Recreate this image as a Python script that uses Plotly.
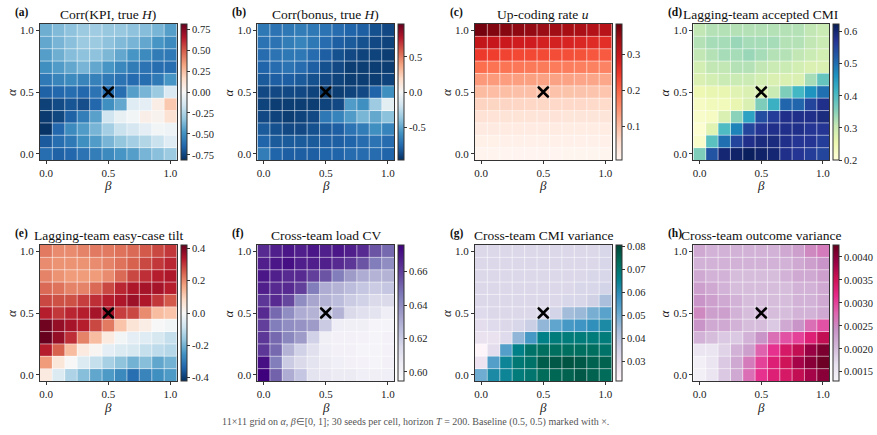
import plotly.graph_objects as go

# ---------------- data ----------------
beta = [0.0, 0.1, 0.2, 0.3, 0.4, 0.5, 0.6, 0.7, 0.8, 0.9, 1.0]
alpha = [1.0, 0.9, 0.8, 0.7, 0.6, 0.5, 0.4, 0.3, 0.2, 0.1, 0.0]   # rows listed top -> bottom
baseline = (0.5, 0.5)

corr_kpi = [
    [-0.40, -0.36, -0.33, -0.30, -0.29, -0.31, -0.31, -0.33, -0.35, -0.38, -0.45],
    [-0.42, -0.38, -0.34, -0.30, -0.30, -0.33, -0.36, -0.38, -0.42, -0.48, -0.52],
    [-0.45, -0.40, -0.35, -0.33, -0.33, -0.37, -0.42, -0.48, -0.52, -0.57, -0.58],
    [-0.50, -0.46, -0.42, -0.38, -0.42, -0.48, -0.53, -0.57, -0.60, -0.62, -0.62],
    [-0.58, -0.54, -0.52, -0.54, -0.55, -0.58, -0.60, -0.63, -0.62, -0.58, -0.48],
    [-0.66, -0.64, -0.62, -0.64, -0.60, -0.62, -0.62, -0.45, -0.38, -0.30, -0.12],
    [-0.76, -0.73, -0.70, -0.72, -0.64, -0.50, -0.42, -0.10, -0.08, 0.06, 0.22],
    [-0.78, -0.74, -0.66, -0.56, -0.44, -0.16, -0.06, -0.02, 0.05, 0.03, 0.12],
    [-0.80, -0.64, -0.52, -0.46, -0.38, -0.28, -0.18, -0.14, -0.08, -0.02, -0.04],
    [-0.68, -0.62, -0.58, -0.50, -0.46, -0.38, -0.32, -0.28, -0.24, -0.18, -0.10],
    [-0.62, -0.66, -0.64, -0.60, -0.56, -0.52, -0.48, -0.45, -0.38, -0.34, -0.30],
]

corr_bonus = [
    [-0.70, -0.72, -0.70, -0.68, -0.70, -0.72, -0.75, -0.78, -0.80, -0.85, -0.88],
    [-0.72, -0.72, -0.68, -0.65, -0.70, -0.75, -0.80, -0.82, -0.85, -0.88, -0.90],
    [-0.75, -0.72, -0.70, -0.70, -0.75, -0.80, -0.85, -0.88, -0.90, -0.90, -0.92],
    [-0.78, -0.75, -0.72, -0.75, -0.80, -0.85, -0.88, -0.92, -0.92, -0.92, -0.92],
    [-0.82, -0.80, -0.80, -0.82, -0.85, -0.88, -0.90, -0.92, -0.92, -0.92, -0.90],
    [-0.88, -0.88, -0.88, -0.88, -0.90, -0.92, -0.92, -0.90, -0.88, -0.78, -0.60],
    [-0.90, -0.92, -0.92, -0.92, -0.92, -0.90, -0.88, -0.55, -0.60, -0.35, -0.10],
    [-0.88, -0.90, -0.92, -0.90, -0.88, -0.70, -0.65, -0.55, -0.45, -0.50, -0.40],
    [-0.82, -0.85, -0.88, -0.88, -0.85, -0.82, -0.80, -0.72, -0.68, -0.60, -0.65],
    [-0.78, -0.82, -0.82, -0.82, -0.82, -0.80, -0.80, -0.78, -0.75, -0.72, -0.75],
    [-0.68, -0.78, -0.80, -0.80, -0.80, -0.78, -0.78, -0.75, -0.75, -0.75, -0.78],
]

upcoding = [
    [0.375, 0.365, 0.360, 0.355, 0.350, 0.345, 0.340, 0.335, 0.330, 0.320, 0.315],
    [0.300, 0.295, 0.290, 0.285, 0.285, 0.280, 0.280, 0.275, 0.270, 0.265, 0.260],
    [0.245, 0.240, 0.235, 0.230, 0.230, 0.228, 0.225, 0.222, 0.220, 0.215, 0.212],
    [0.190, 0.185, 0.183, 0.180, 0.178, 0.176, 0.175, 0.173, 0.170, 0.168, 0.166],
    [0.140, 0.138, 0.135, 0.133, 0.132, 0.130, 0.130, 0.128, 0.126, 0.125, 0.124],
    [0.100, 0.098, 0.096, 0.095, 0.094, 0.093, 0.092, 0.091, 0.090, 0.089, 0.088],
    [0.070, 0.068, 0.067, 0.066, 0.065, 0.064, 0.063, 0.062, 0.062, 0.061, 0.060],
    [0.048, 0.047, 0.046, 0.045, 0.045, 0.044, 0.044, 0.043, 0.043, 0.042, 0.042],
    [0.030, 0.030, 0.029, 0.029, 0.028, 0.028, 0.028, 0.027, 0.027, 0.027, 0.026],
    [0.018, 0.018, 0.017, 0.017, 0.017, 0.016, 0.016, 0.016, 0.016, 0.015, 0.015],
    [0.009, 0.009, 0.008, 0.008, 0.008, 0.008, 0.008, 0.007, 0.007, 0.007, 0.007],
]

accepted_cmi = [
    [0.31, 0.32, 0.32, 0.32, 0.32, 0.32, 0.32, 0.32, 0.32, 0.31, 0.30],
    [0.32, 0.33, 0.33, 0.34, 0.33, 0.33, 0.33, 0.32, 0.32, 0.31, 0.30],
    [0.31, 0.32, 0.33, 0.33, 0.34, 0.33, 0.32, 0.32, 0.31, 0.30, 0.29],
    [0.29, 0.31, 0.31, 0.32, 0.32, 0.31, 0.30, 0.30, 0.29, 0.28, 0.28],
    [0.28, 0.29, 0.30, 0.30, 0.30, 0.29, 0.28, 0.28, 0.28, 0.33, 0.38],
    [0.25, 0.26, 0.26, 0.27, 0.28, 0.28, 0.30, 0.36, 0.41, 0.46, 0.50],
    [0.23, 0.24, 0.24, 0.26, 0.28, 0.36, 0.42, 0.51, 0.51, 0.55, 0.58],
    [0.22, 0.23, 0.28, 0.35, 0.44, 0.54, 0.56, 0.58, 0.58, 0.58, 0.59],
    [0.21, 0.27, 0.40, 0.48, 0.55, 0.57, 0.58, 0.58, 0.58, 0.57, 0.57],
    [0.22, 0.39, 0.50, 0.55, 0.58, 0.59, 0.59, 0.58, 0.57, 0.57, 0.56],
    [0.36, 0.53, 0.60, 0.61, 0.62, 0.61, 0.60, 0.58, 0.57, 0.56, 0.55],
]

easy_tilt = [
    [0.22, 0.20, 0.20, 0.21, 0.22, 0.22, 0.23, 0.24, 0.26, 0.28, 0.30],
    [0.20, 0.19, 0.19, 0.19, 0.20, 0.21, 0.23, 0.25, 0.28, 0.30, 0.32],
    [0.21, 0.19, 0.18, 0.18, 0.18, 0.20, 0.24, 0.28, 0.31, 0.33, 0.34],
    [0.24, 0.23, 0.21, 0.21, 0.24, 0.28, 0.32, 0.34, 0.35, 0.35, 0.33],
    [0.28, 0.27, 0.27, 0.29, 0.31, 0.33, 0.34, 0.36, 0.34, 0.30, 0.26],
    [0.33, 0.30, 0.32, 0.33, 0.35, 0.35, 0.29, 0.28, 0.20, 0.13, 0.12],
    [0.41, 0.37, 0.35, 0.33, 0.28, 0.22, 0.12, 0.06, 0.03, 0.00, -0.01],
    [0.42, 0.37, 0.31, 0.21, 0.13, 0.04, -0.01, -0.04, -0.05, -0.07, -0.10],
    [0.33, 0.25, 0.13, 0.04, 0.01, -0.04, -0.06, -0.07, -0.10, -0.11, -0.12],
    [0.18, 0.05, 0.00, -0.06, -0.10, -0.14, -0.17, -0.20, -0.18, -0.22, -0.20],
    [0.04, -0.06, -0.13, -0.18, -0.22, -0.24, -0.27, -0.32, -0.28, -0.26, -0.24],
]

load_cv = [
    [0.665, 0.668, 0.670, 0.668, 0.670, 0.668, 0.670, 0.668, 0.665, 0.655, 0.650],
    [0.668, 0.670, 0.672, 0.668, 0.668, 0.668, 0.665, 0.662, 0.655, 0.645, 0.640],
    [0.670, 0.668, 0.665, 0.665, 0.660, 0.655, 0.645, 0.635, 0.630, 0.628, 0.628],
    [0.668, 0.665, 0.665, 0.660, 0.645, 0.630, 0.628, 0.625, 0.622, 0.620, 0.622],
    [0.662, 0.665, 0.658, 0.640, 0.632, 0.628, 0.625, 0.620, 0.618, 0.615, 0.615],
    [0.665, 0.650, 0.640, 0.630, 0.628, 0.622, 0.628, 0.615, 0.612, 0.610, 0.605],
    [0.660, 0.645, 0.640, 0.638, 0.635, 0.620, 0.605, 0.603, 0.603, 0.600, 0.600],
    [0.662, 0.650, 0.642, 0.635, 0.618, 0.603, 0.602, 0.602, 0.601, 0.600, 0.601],
    [0.662, 0.650, 0.628, 0.618, 0.612, 0.605, 0.602, 0.602, 0.600, 0.600, 0.601],
    [0.672, 0.645, 0.620, 0.615, 0.610, 0.606, 0.604, 0.602, 0.601, 0.600, 0.602],
    [0.676, 0.652, 0.630, 0.622, 0.610, 0.608, 0.606, 0.606, 0.604, 0.603, 0.604],
]

cmi_var = [
    [0.033, 0.033, 0.033, 0.033, 0.033, 0.033, 0.033, 0.033, 0.033, 0.033, 0.034],
    [0.033, 0.033, 0.033, 0.033, 0.033, 0.033, 0.033, 0.033, 0.033, 0.033, 0.034],
    [0.033, 0.033, 0.033, 0.033, 0.033, 0.033, 0.033, 0.033, 0.033, 0.034, 0.034],
    [0.033, 0.033, 0.033, 0.033, 0.033, 0.033, 0.033, 0.033, 0.034, 0.034, 0.035],
    [0.033, 0.033, 0.033, 0.033, 0.033, 0.033, 0.033, 0.034, 0.034, 0.036, 0.043],
    [0.032, 0.033, 0.033, 0.033, 0.033, 0.033, 0.035, 0.044, 0.045, 0.049, 0.053],
    [0.031, 0.032, 0.033, 0.034, 0.037, 0.046, 0.052, 0.056, 0.057, 0.059, 0.062],
    [0.029, 0.029, 0.032, 0.046, 0.056, 0.066, 0.068, 0.068, 0.068, 0.068, 0.068],
    [0.022, 0.031, 0.054, 0.066, 0.071, 0.072, 0.072, 0.072, 0.072, 0.072, 0.071],
    [0.028, 0.054, 0.064, 0.069, 0.071, 0.076, 0.077, 0.078, 0.077, 0.075, 0.075],
    [0.050, 0.062, 0.064, 0.068, 0.070, 0.073, 0.074, 0.075, 0.077, 0.075, 0.073],
]

outcome_var = [
    [0.0022, 0.0021, 0.0021, 0.0021, 0.0021, 0.0021, 0.0021, 0.0022, 0.0023, 0.0025, 0.0026],
    [0.0021, 0.0021, 0.0021, 0.0021, 0.0021, 0.0021, 0.0021, 0.0021, 0.0022, 0.0023, 0.0024],
    [0.0022, 0.0021, 0.0021, 0.0020, 0.0020, 0.0020, 0.0020, 0.0021, 0.0022, 0.0022, 0.0023],
    [0.0023, 0.0022, 0.0021, 0.0020, 0.0020, 0.0020, 0.0020, 0.0020, 0.0021, 0.0021, 0.0022],
    [0.0024, 0.0023, 0.0022, 0.0021, 0.0020, 0.0020, 0.0020, 0.0020, 0.0021, 0.0021, 0.0022],
    [0.0025, 0.0023, 0.0023, 0.0021, 0.0020, 0.0020, 0.0020, 0.0020, 0.0021, 0.0021, 0.0022],
    [0.0024, 0.0022, 0.0022, 0.0021, 0.0020, 0.0020, 0.0019, 0.0022, 0.0024, 0.0027, 0.0029],
    [0.0021, 0.0020, 0.0019, 0.0019, 0.0021, 0.0024, 0.0027, 0.0029, 0.0030, 0.0033, 0.0036],
    [0.0016, 0.0016, 0.0018, 0.0021, 0.0023, 0.0028, 0.0031, 0.0034, 0.0036, 0.0039, 0.0041],
    [0.0014, 0.0016, 0.0019, 0.0022, 0.0026, 0.0030, 0.0033, 0.0035, 0.0038, 0.0040, 0.0042],
    [0.0014, 0.0016, 0.0019, 0.0022, 0.0027, 0.0031, 0.0033, 0.0034, 0.0036, 0.0038, 0.0040],
]

titles = ["Corr(KPI, true <i>H</i>)", "Corr(bonus, true <i>H</i>)", "Up-coding rate <i>u</i>",
          "Lagging-team accepted CMI", "Lagging-team easy-case tilt", "Cross-team load CV",
          "Cross-team CMI variance", "Cross-team outcome variance"]
labels = ["(a)", "(b)", "(c)", "(d)", "(e)", "(f)", "(g)", "(h)"]
axis_ticks = [0.0, 0.5, 1.0]
axis_ticktext = ["0.0", "0.5", "1.0"]

# ---------------- colour scales ----------------
def mk(cols):
    n = len(cols) - 1
    return [[i / n, c] for i, c in enumerate(cols)]

RDBU_R = mk(['#053061', '#2166ac', '#4393c3', '#92c5de', '#d1e5f0', '#f7f7f7',
             '#fddbc7', '#f4a582', '#d6604d', '#b2182b', '#67001f'])
REDS = mk(['#fff5f0', '#fee0d2', '#fcbba1', '#fc9272', '#fb6a4a', '#ef3b2c', '#cb181d', '#a50f15', '#67000d'])
YLGNBU = mk(['#ffffd9', '#edf8b1', '#c7e9b4', '#7fcdbb', '#41b6c4', '#1d91c0', '#225ea8', '#253494', '#081d58'])
PURPLES = mk(['#fcfbfd', '#efedf5', '#dadaeb', '#bcbddc', '#9e9ac8', '#807dba', '#6a51a3', '#54278f', '#3f007d'])
PUBUGN = mk(['#fff7fb', '#ece2f0', '#d0d1e6', '#a6bddb', '#67a9cf', '#3690c0', '#02818a', '#016c59', '#014636'])
PURD = mk(['#f7f4f9', '#e7e1ef', '#d4b9da', '#c994c7', '#df65b0', '#e7298a', '#ce1256', '#980043', '#67001f'])

panels = [
    dict(z=corr_kpi, cs=RDBU_R, zmin=-0.81, zmax=0.81,
         tv=[-0.75, -0.5, -0.25, 0, 0.25, 0.5, 0.75],
         tt=["-0.75", "-0.50", "-0.25", "0.00", "0.25", "0.50", "0.75"]),
    dict(z=corr_bonus, cs=RDBU_R, zmin=-0.97, zmax=0.97,
         tv=[-0.5, 0, 0.5], tt=["-0.5", "0.0", "0.5"]),
    dict(z=upcoding, cs=REDS, zmin=0.006, zmax=0.385,
         tv=[0.1, 0.2, 0.3], tt=["0.1", "0.2", "0.3"]),
    dict(z=accepted_cmi, cs=YLGNBU, zmin=0.2, zmax=0.624,
         tv=[0.2, 0.3, 0.4, 0.5, 0.6], tt=["0.2", "0.3", "0.4", "0.5", "0.6"]),
    dict(z=easy_tilt, cs=RDBU_R, zmin=-0.42, zmax=0.42,
         tv=[-0.4, -0.2, 0, 0.2, 0.4], tt=["-0.4", "-0.2", "0.0", "0.2", "0.4"]),
    dict(z=load_cv, cs=PURPLES, zmin=0.5946, zmax=0.676,
         tv=[0.60, 0.62, 0.64, 0.66], tt=["0.60", "0.62", "0.64", "0.66"]),
    dict(z=cmi_var, cs=PUBUGN, zmin=0.0214, zmax=0.0805,
         tv=[0.03, 0.04, 0.05, 0.06, 0.07, 0.08], tt=["0.03", "0.04", "0.05", "0.06", "0.07", "0.08"]),
    dict(z=outcome_var, cs=PURD, zmin=0.0013, zmax=0.00426,
         tv=[0.0015, 0.0020, 0.0025, 0.0030, 0.0035, 0.0040],
         tt=["0.0015", "0.0020", "0.0025", "0.0030", "0.0035", "0.0040"]),
]

# ---------------- layout geometry (pixels) ----------------
W, H = 877, 435
cols = [(39, 176), (257, 394), (475, 612), (694, 830)]
rows = [(24, 160), (245, 381)]
FONT = "Liberation Serif, Times New Roman, serif"
EDGE = "#333333"
RANGE = [-0.05, 1.05]

# cell boundaries (midpoints between grid values) for the faint white cell grid
b_sorted = sorted(beta)
a_sorted = sorted(alpha)
xb = [(b_sorted[k] + b_sorted[k + 1]) / 2 for k in range(len(b_sorted) - 1)]
yb = [(a_sorted[k] + a_sorted[k + 1]) / 2 for k in range(len(a_sorted) - 1)]

fig = go.Figure()
layout = dict(width=W, height=H, margin=dict(l=0, r=0, t=0, b=0),
              paper_bgcolor="white", plot_bgcolor="white",
              font=dict(family=FONT, color="#222"), showlegend=False)
annotations = []
shapes = []
GRID = dict(color="rgba(255,255,255,0.55)", width=1)

for i, p in enumerate(panels):
    r, c = divmod(i, 4)
    x0, x1 = cols[c]
    y0, y1 = rows[r]
    sfx = "" if i == 0 else str(i + 1)
    xa, ya = "x" + sfx, "y" + sfx
    fig.add_trace(go.Heatmap(
        x=beta, y=alpha, z=p["z"], colorscale=p["cs"], zmin=p["zmin"], zmax=p["zmax"],
        xaxis=xa, yaxis=ya, hoverinfo="skip",
        colorbar=dict(x=(x1 + 4) / W, xanchor="left", y=1 - y0 / H, yanchor="top",
                      len=(y1 - y0) / H, lenmode="fraction", thickness=6, thicknessmode="pixels",
                      xpad=0, ypad=0, outlinewidth=1, outlinecolor=EDGE,
                      ticks="outside", ticklen=3, tickwidth=1, tickcolor=EDGE,
                      tickmode="array", tickvals=p["tv"], ticktext=p["tt"],
                      tickfont=dict(family=FONT, size=10.5, color="#222"))))
    for xv in xb:
        shapes.append(dict(type="line", xref=xa, yref=ya, x0=xv, x1=xv, y0=RANGE[0], y1=RANGE[1],
                           line=GRID, layer="above"))
    for yv in yb:
        shapes.append(dict(type="line", xref=xa, yref=ya, y0=yv, y1=yv, x0=RANGE[0], x1=RANGE[1],
                           line=GRID, layer="above"))
    fig.add_trace(go.Scatter(
        x=[baseline[1]], y=[baseline[0]], mode="markers", xaxis=xa, yaxis=ya,
        marker=dict(symbol="x-thin", size=11, line=dict(width=2.5, color="black")),
        hoverinfo="skip", showlegend=False))
    common = dict(range=RANGE, showgrid=False, zeroline=False,
                  showline=True, mirror=True, linecolor=EDGE, linewidth=1,
                  ticks="outside", ticklen=3, tickwidth=1, tickcolor=EDGE,
                  tickmode="array", tickvals=axis_ticks, ticktext=axis_ticktext,
                  tickfont=dict(family=FONT, size=11, color="#222"))
    layout["xaxis" + sfx] = dict(domain=[x0 / W, x1 / W], anchor=ya, **common)
    layout["yaxis" + sfx] = dict(domain=[1 - y1 / H, 1 - y0 / H], anchor=xa, **common)
    cx = (x0 + x1) / 2
    annotations.append(dict(text=titles[i], x=cx / W, y=1 - (y0 - 10) / H, xref="paper", yref="paper",
                            xanchor="center", yanchor="middle", showarrow=False,
                            font=dict(family=FONT, size=13.5, color="#111")))
    annotations.append(dict(text="<b>" + labels[i] + "</b>", x=(x0 - 27) / W, y=1 - (y0 - 12) / H,
                            xref="paper", yref="paper", xanchor="left", yanchor="middle",
                            showarrow=False, font=dict(family=FONT, size=11.5, color="#111")))
    annotations.append(dict(text="<i>α</i>", x=(x0 - 29) / W, y=1 - ((y0 + y1) / 2) / H,
                            xref="paper", yref="paper", xanchor="center", yanchor="middle",
                            showarrow=False, textangle=-90,
                            font=dict(family=FONT, size=13, color="#222")))
    annotations.append(dict(text="<i>β</i>", x=cx / W, y=1 - (y1 + 26) / H,
                            xref="paper", yref="paper", xanchor="center", yanchor="middle",
                            showarrow=False, font=dict(family=FONT, size=13, color="#222")))

annotations.append(dict(
    text="11×11 grid on <i>α</i>, <i>β</i>∈[0, 1]; 30 seeds per cell, horizon <i>T</i> = 200. "
         "Baseline (0.5, 0.5) marked with ×.",
    x=415 / W, y=1 - 422 / H, xref="paper", yref="paper", xanchor="center", yanchor="middle",
    showarrow=False, font=dict(family=FONT, size=10, color="#555")))

layout["annotations"] = annotations
layout["shapes"] = shapes
fig.update_layout(**layout)
fig.write_html("out.html")
